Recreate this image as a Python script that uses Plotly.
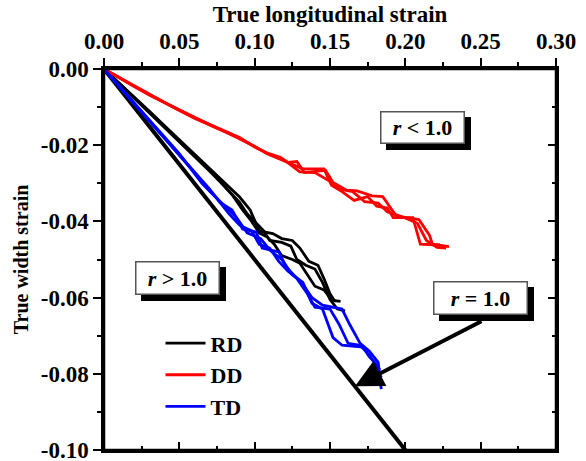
import plotly.graph_objects as go

# ---------------- data ----------------
RD1_X = [0, 0.01, 0.02, 0.03, 0.04, 0.05, 0.06, 0.07, 0.08, 0.09, 0.097, 0.103, 0.112, 0.118, 0.125, 0.130, 0.136, 0.142, 0.146, 0.150, 0.153, 0.157]
RD1_Y = [0, -0.0036, -0.0073, -0.011, -0.0148, -0.0186, -0.0223, -0.026, -0.030, -0.0336, -0.037, -0.0425, -0.0432, -0.0445, -0.045, -0.047, -0.0505, -0.0515, -0.055, -0.059, -0.0608, -0.061]
RD2_X = [0, 0.01, 0.02, 0.03, 0.04, 0.05, 0.06, 0.07, 0.08, 0.09, 0.095, 0.100, 0.106, 0.110, 0.118, 0.124, 0.128, 0.134, 0.140, 0.145, 0.150, 0.155, 0.160]
RD2_Y = [0, -0.0038, -0.0076, -0.0114, -0.0153, -0.0192, -0.023, -0.0268, -0.0308, -0.035, -0.038, -0.040, -0.0425, -0.045, -0.0455, -0.0465, -0.050, -0.0515, -0.0525, -0.056, -0.0605, -0.063, -0.0635]
RD3_X = [0, 0.01, 0.02, 0.03, 0.04, 0.05, 0.06, 0.07, 0.085, 0.092, 0.098, 0.103, 0.108, 0.113, 0.118, 0.125, 0.130, 0.135, 0.140, 0.146, 0.150, 0.154]
RD3_Y = [0, -0.0037, -0.0075, -0.0112, -0.015, -0.0189, -0.0227, -0.0264, -0.033, -0.037, -0.040, -0.043, -0.044, -0.046, -0.049, -0.050, -0.051, -0.054, -0.057, -0.058, -0.060, -0.061]

DD1_X = [0, 0.01, 0.02, 0.03, 0.04, 0.05, 0.06, 0.07, 0.08, 0.09, 0.10, 0.108, 0.117, 0.122, 0.128, 0.133, 0.147, 0.152, 0.161, 0.168, 0.178, 0.185, 0.194, 0.209, 0.216, 0.218, 0.229]
DD1_Y = [0, -0.0023, -0.0045, -0.0068, -0.0088, -0.0108, -0.0128, -0.0145, -0.0162, -0.018, -0.0205, -0.022, -0.0232, -0.0245, -0.0243, -0.0272, -0.0266, -0.0298, -0.0318, -0.032, -0.0333, -0.0335, -0.0386, -0.0395, -0.0436, -0.046, -0.0466]
DD2_X = [0, 0.01, 0.02, 0.03, 0.04, 0.05, 0.06, 0.07, 0.08, 0.09, 0.10, 0.108, 0.118, 0.125, 0.132, 0.146, 0.151, 0.158, 0.166, 0.175, 0.181, 0.188, 0.192, 0.205, 0.210, 0.223]
DD2_Y = [0, -0.0022, -0.0044, -0.0066, -0.0087, -0.0107, -0.0127, -0.0146, -0.0164, -0.0183, -0.0203, -0.0222, -0.0238, -0.025, -0.0262, -0.0262, -0.0305, -0.0322, -0.0345, -0.0335, -0.036, -0.0365, -0.039, -0.039, -0.046, -0.0462]
DD3_X = [0, 0.01, 0.02, 0.03, 0.04, 0.05, 0.06, 0.07, 0.08, 0.09, 0.10, 0.11, 0.12, 0.13, 0.14, 0.15, 0.156, 0.165, 0.173, 0.182, 0.188, 0.198, 0.208, 0.214, 0.221, 0.227]
DD3_Y = [0, -0.0024, -0.0046, -0.0067, -0.0089, -0.0109, -0.0129, -0.0147, -0.0165, -0.0182, -0.0204, -0.0225, -0.024, -0.027, -0.0272, -0.0295, -0.0315, -0.0322, -0.0348, -0.0352, -0.0375, -0.0388, -0.0405, -0.045, -0.0468, -0.047]

TD1_X = [0, 0.01, 0.02, 0.03, 0.04, 0.05, 0.06, 0.07, 0.077, 0.085, 0.092, 0.101, 0.105, 0.116, 0.121, 0.126, 0.132, 0.138, 0.145, 0.158, 0.163, 0.170, 0.176, 0.182, 0.184]
TD1_Y = [0, -0.0046, -0.0092, -0.0136, -0.018, -0.0225, -0.027, -0.0315, -0.035, -0.037, -0.042, -0.0428, -0.047, -0.048, -0.052, -0.054, -0.0565, -0.060, -0.062, -0.063, -0.067, -0.072, -0.074, -0.077, -0.084]
TD2_X = [0, 0.01, 0.02, 0.03, 0.04, 0.05, 0.06, 0.07, 0.08, 0.088, 0.095, 0.104, 0.110, 0.118, 0.125, 0.132, 0.138, 0.145, 0.152, 0.158, 0.172, 0.176, 0.181, 0.183]
TD2_Y = [0, -0.0045, -0.009, -0.0135, -0.0181, -0.0227, -0.0272, -0.032, -0.036, -0.039, -0.043, -0.0445, -0.0475, -0.050, -0.054, -0.056, -0.0615, -0.063, -0.0705, -0.0725, -0.073, -0.0755, -0.0775, -0.079]
TD3_X = [0, 0.01, 0.02, 0.03, 0.04, 0.05, 0.065, 0.075, 0.083, 0.090, 0.098, 0.103, 0.110, 0.116, 0.122, 0.128, 0.135, 0.140, 0.150, 0.156, 0.162, 0.170, 0.176, 0.181, 0.184]
TD3_Y = [0, -0.0044, -0.0089, -0.0133, -0.0178, -0.0222, -0.030, -0.034, -0.038, -0.041, -0.0425, -0.046, -0.047, -0.0505, -0.053, -0.055, -0.059, -0.0625, -0.063, -0.067, -0.072, -0.0725, -0.075, -0.078, -0.081]

R1_X = [0.0, 0.20]
R1_Y = [0.0, -0.10]

X_TICKS = [0.00, 0.05, 0.10, 0.15, 0.20, 0.25, 0.30]
X_TICK_LABELS = ["0.00", "0.05", "0.10", "0.15", "0.20", "0.25", "0.30"]
Y_TICKS = [0.00, -0.02, -0.04, -0.06, -0.08, -0.10]
Y_TICK_LABELS = ["0.00", "-0.02", "-0.04", "-0.06", "-0.08", "-0.10"]

# --------------- figure ---------------
FONT = "Liberation Serif, Times New Roman, serif"
fig = go.Figure()

fig.add_trace(go.Scatter(x=R1_X, y=R1_Y, mode="lines", line=dict(color="black", width=4),
                         showlegend=False, hoverinfo="skip"))

series = [
    ("RD", "black", [(RD1_X, RD1_Y), (RD2_X, RD2_Y), (RD3_X, RD3_Y)]),
    ("DD", "#ff0000", [(DD1_X, DD1_Y), (DD2_X, DD2_Y), (DD3_X, DD3_Y)]),
    ("TD", "#0000ff", [(TD1_X, TD1_Y), (TD2_X, TD2_Y), (TD3_X, TD3_Y)]),
]
for name, color, curves in series:
    for i, (xs, ys) in enumerate(curves):
        fig.add_trace(go.Scatter(x=xs, y=ys, mode="lines", name=name, legendgroup=name,
                                 showlegend=(i == 0), line=dict(color=color, width=2.8)))

# dummy traces to activate mirror axes (bottom / right, inward ticks)
fig.add_trace(go.Scatter(x=[None], y=[None], xaxis="x2", yaxis="y", showlegend=False, hoverinfo="skip"))
fig.add_trace(go.Scatter(x=[None], y=[None], xaxis="x", yaxis="y2", showlegend=False, hoverinfo="skip"))

tickfont = dict(family=FONT, size=23, color="black", weight="bold")

common_x = dict(range=[0, 0.30], tickvals=X_TICKS, showline=True, linewidth=2.5, linecolor="black",
                tickwidth=2, tickcolor="black", showgrid=False, zeroline=False, fixedrange=True,
                automargin=False)
common_y = dict(range=[-0.10, 0.0], tickvals=Y_TICKS, showline=True, linewidth=2.5, linecolor="black",
                tickwidth=2, tickcolor="black", showgrid=False, zeroline=False, fixedrange=True,
                automargin=False)

fig.update_layout(
    width=586, height=461,
    margin=dict(l=104, r=30, t=69, b=11),
    paper_bgcolor="white", plot_bgcolor="white",
    xaxis=dict(**common_x, side="top", ticks="outside", ticklen=8, ticktext=X_TICK_LABELS,
               tickfont=tickfont, mirror=True,
               minor=dict(ticks="outside", ticklen=4, tickwidth=2, tickcolor="black", dtick=0.025, tick0=0),
               title=dict(text="True longitudinal strain", standoff=0,
                          font=dict(family=FONT, size=23, color="black", weight="bold"))),
    yaxis=dict(**common_y, side="left", ticks="outside", ticklen=8, ticktext=Y_TICK_LABELS,
               tickfont=tickfont, mirror=True, ticklabeloverflow="allow",
               minor=dict(ticks="outside", ticklen=4, tickwidth=2, tickcolor="black", dtick=0.01, tick0=0),
               title=dict(text="True width strain", standoff=7,
                          font=dict(family=FONT, size=20, color="black", weight="bold"))),
    xaxis2=dict(**common_x, overlaying="x", side="bottom", anchor="y", ticks="inside", ticklen=8,
                showticklabels=False,
                minor=dict(ticks="inside", ticklen=4, tickwidth=2, tickcolor="black", dtick=0.025, tick0=0)),
    yaxis2=dict(**common_y, overlaying="y", side="right", anchor="x", ticks="inside", ticklen=8,
                showticklabels=False,
                minor=dict(ticks="inside", ticklen=4, tickwidth=2, tickcolor="black", dtick=0.01, tick0=0)),
    legend=dict(x=0.125, y=0.335, xanchor="left", yanchor="top", bgcolor="rgba(0,0,0,0)",
                font=dict(family=FONT, size=22, color="black", weight="bold"), tracegroupgap=0,
                itemwidth=40),
    showlegend=True,
)

# plot frame
fig.add_shape(type="rect", xref="paper", yref="paper", x0=0, y0=0, x1=1, y1=1,
              line=dict(color="black", width=2.5), layer="above")

labels = [
    ("<i>r</i> < 1.0", 0.2117, -0.0154, 82, 30),
    ("<i>r</i> > 1.0", 0.0491, -0.0548, 82, 31),
    ("<i>r</i> = 1.0", 0.2500, -0.0600, 92, 31),
]
for text, lx, ly, w, h in labels:
    fig.add_annotation(x=lx, y=ly, xref="x", yref="y", text=text, showarrow=False,
                       xshift=6, yshift=-6, width=w, height=h, bgcolor="black", bordercolor="black",
                       borderwidth=1.5, borderpad=0,
                       font=dict(family=FONT, size=22, color="black", weight="bold"))
    fig.add_annotation(x=lx, y=ly, xref="x", yref="y", text=text, showarrow=False,
                       width=w, height=h, bgcolor="white", bordercolor="#555555",
                       borderwidth=1.5, borderpad=0,
                       font=dict(family=FONT, size=22, color="black", weight="bold"))

# arrow pointing at the r = 1.0 line
fig.add_annotation(x=0.1666, y=-0.0833, xref="x", yref="y", ax=0.2515, ay=-0.066,
                   axref="x", ayref="y", text="", showarrow=True, arrowhead=2, arrowsize=1.4,
                   arrowwidth=4, arrowcolor="black")

fig.write_html("out.html")
